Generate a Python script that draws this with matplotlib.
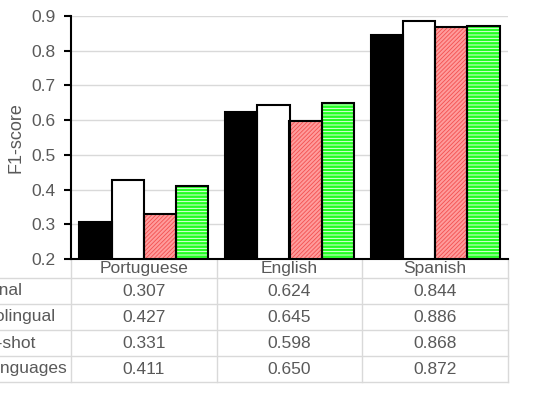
import matplotlib.pyplot as plt
from matplotlib.transforms import blended_transform_factory

languages = ['Portuguese', 'English', 'Spanish']
series = ['Original', 'Monolingual', 'Zero-shot', 'All languages']
f1_original = [0.307, 0.624, 0.844]
f1_monolingual = [0.427, 0.645, 0.886]
f1_zero_shot = [0.331, 0.598, 0.868]
f1_all_languages = [0.411, 0.650, 0.872]
yticks = [0.2, 0.3, 0.4, 0.5, 0.6, 0.7, 0.8, 0.9]

plt.rcParams['font.family'] = ['Liberation Sans', 'DejaVu Sans']
plt.rcParams['hatch.linewidth'] = 0.6

W, H = 533, 403
GREY = '#595959'
LINE = '#D9D9D9'
FS = 12.5

fig = plt.figure(figsize=(W / 100, H / 100), dpi=100)
ax = fig.add_axes([71 / W, (H - 259) / H, 437 / W, 243 / H])

all_values = [f1_original, f1_monolingual, f1_zero_shot, f1_all_languages]
# fill colour, hatch pattern, hatch colour
styles = [
    ('black', '', 'black'),
    ('white', '', 'white'),
    ('#FF9C9C', '////////', '#F25050'),
    ('#22FF22', '-----', 'white'),
]

w = 0.2215
for i, (vals, (face, hatch, hcol)) in enumerate(zip(all_values, styles)):
    xs = [j + (i - 1.5) * w for j in range(len(languages))]
    ax.bar(xs, vals, w, color=face, hatch=hatch, edgecolor=hcol, linewidth=0, zorder=2)
    ax.bar(xs, vals, w, fill=False, edgecolor='black', linewidth=1.5, zorder=3)

ax.set_xlim(-0.5, len(languages) - 0.5)
ax.set_ylim(0.2, 0.9)
ax.set_yticks(yticks)
ax.set_yticklabels([f'{t:.1f}' for t in yticks])
ax.set_xticks([])
ax.grid(axis='y', color=LINE, linewidth=1)
ax.set_axisbelow(True)
for side in ['top', 'right']:
    ax.spines[side].set_visible(False)
for side in ['left', 'bottom']:
    ax.spines[side].set_linewidth(1.5)
    ax.spines[side].set_color('black')
ax.tick_params(axis='y', direction='out', length=5, width=1.5, color='black',
               labelcolor=GREY, labelsize=FS, pad=6)

fig.text(16 / W, 1 - 138 / H, 'F1-score', rotation=90, ha='center', va='center',
         color=GREY, fontsize=13)

# data table under the axes
trans = blended_transform_factory(ax.transData, ax.transAxes)


def ay(px):
    return (259 - px) / 243


header_bottom = 278
row_h = 26
n_rows = len(series)
table_bottom = header_bottom + n_rows * row_h
left_edge = (0 - 71) / 437

for k in range(len(languages) + 1):
    ax.plot([k - 0.5, k - 0.5], [ay(259), ay(table_bottom)], color=LINE,
            linewidth=1, transform=trans, clip_on=False, zorder=1)
for r in range(n_rows + 1):
    y = ay(header_bottom + r * row_h)
    ax.plot([left_edge, 1], [y, y], color=LINE, linewidth=1,
            transform=ax.transAxes, clip_on=False, zorder=1)

for j, lang in enumerate(languages):
    ax.text(j, ay(268.5), lang, transform=trans, ha='center', va='center',
            color=GREY, fontsize=FS)
    for r, vals in enumerate(all_values):
        ax.text(j, ay(header_bottom + (r + 0.5) * row_h), f'{vals[j]:.3f}',
                transform=trans, ha='center', va='center', color=GREY, fontsize=FS)

# series names, left part runs past the figure edge
for r, name in enumerate(series):
    fig.text(-38 / W, 1 - (header_bottom + (r + 0.5) * row_h) / H, name,
             ha='left', va='center', color=GREY, fontsize=FS)

fig.savefig('out.png', dpi=100)
